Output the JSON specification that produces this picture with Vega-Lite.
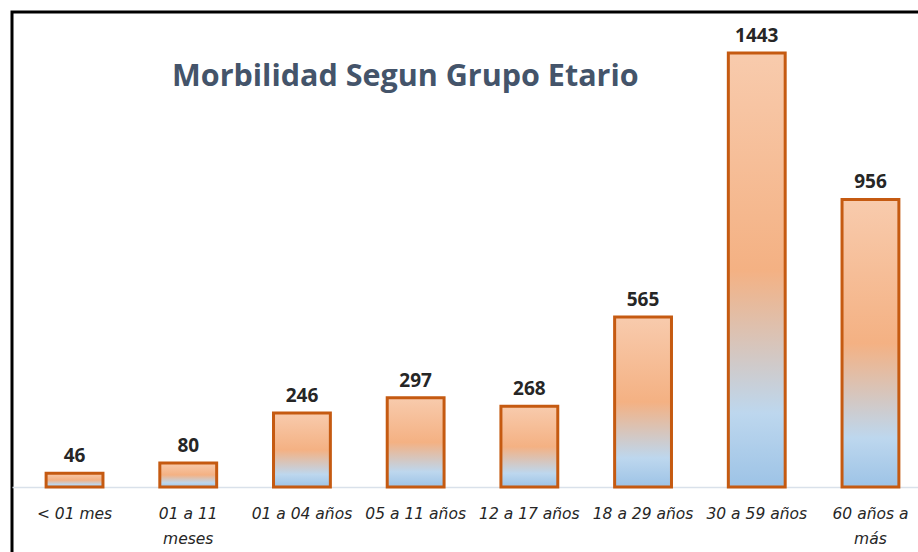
{
  "$schema": "https://vega.github.io/schema/vega-lite/v6.json",
  "autosize": "none",
  "padding": {"left": 12, "top": 12, "right": 0, "bottom": 0},
  "width": 921,
  "height": 558,
  "background": "white",
  "config": {
    "view": {"stroke": "#000000", "strokeWidth": 3},
    "font": "Open Sans"
  },
  "title": {
    "text": "Morbilidad Segun Grupo Etario",
    "orient": "top",
    "anchor": "start",
    "frame": "group",
    "dx": 160,
    "offset": -104,
    "baseline": "alphabetic",
    "font": "Open Sans",
    "fontSize": 30.5,
    "fontWeight": "bold",
    "color": "#44546A"
  },
  "data": {
    "values": [
      {"grupo": "< 01 mes", "casos": 46},
      {"grupo": "01 a 11 meses", "casos": 80},
      {"grupo": "01 a 04 años", "casos": 246},
      {"grupo": "05 a 11 años", "casos": 297},
      {"grupo": "12 a 17 años", "casos": 268},
      {"grupo": "18 a 29 años", "casos": 565},
      {"grupo": "30 a 59 años", "casos": 1443},
      {"grupo": "60 años a más", "casos": 956}
    ]
  },
  "encoding": {
    "x": {
      "field": "grupo",
      "type": "nominal",
      "sort": null,
      "scale": {"paddingInner": 0.5, "paddingOuter": 0.3},
      "axis": {
        "title": null,
        "orient": "bottom",
        "offset": -83,
        "labelAngle": 0,
        "ticks": false,
        "domainColor": "#D9E1EA",
        "domainWidth": 1.5,
        "labelFont": "DejaVu Sans",
        "labelFontStyle": "italic",
        "labelFontSize": 15.5,
        "labelColor": "#262626",
        "labelPadding": 19,
        "labelLineHeight": 25,
        "labelExpr": "datum.label == '01 a 11 meses' ? ['01 a 11', 'meses'] : datum.label == '60 años a más' ? ['60 años a', 'más'] : datum.label"
      }
    },
    "y": {
      "field": "casos",
      "type": "quantitative",
      "scale": {"domain": [-276, 1579], "nice": false, "zero": false},
      "axis": null
    }
  },
  "layer": [
    {
      "mark": {
        "type": "bar",
        "stroke": "#C55A11",
        "strokeWidth": 3,
        "fill": {
          "gradient": "linear",
          "x1": 0, "y1": 0, "x2": 0, "y2": 1,
          "stops": [
            {"offset": 0, "color": "#F8CBAD"},
            {"offset": 0.5, "color": "#F4B183"},
            {"offset": 0.83, "color": "#BDD7EE"},
            {"offset": 1, "color": "#9DC3E6"}
          ]
        }
      },
      "encoding": {
        "y2": {"datum": 0}
      }
    },
    {
      "mark": {
        "type": "text",
        "baseline": "alphabetic",
        "dy": -11,
        "font": "Open Sans",
        "fontSize": 19,
        "fontWeight": "bold",
        "color": "#262626"
      },
      "encoding": {
        "text": {"field": "casos", "type": "quantitative"}
      }
    }
  ]
}
